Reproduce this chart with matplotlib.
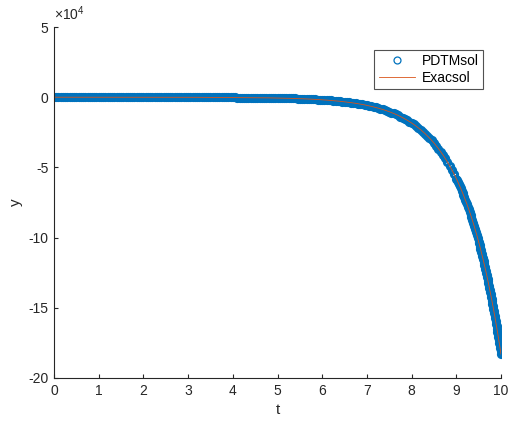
import numpy as np
import matplotlib.pyplot as plt
from matplotlib.ticker import FuncFormatter

# sample points (t) and values, in units of 1e4
t_flat = np.linspace(0, 5.95, 120)
y_flat = [
    0.000, 0.000, 0.000, 0.000, 0.000, 0.000, 0.000, 0.000, 0.000, 0.000,
    0.000, 0.000, 0.000, 0.000, 0.000, 0.000, 0.000, 0.000, 0.000, 0.000,
    0.001, 0.001, 0.001, 0.001, 0.001, 0.001, 0.001, 0.001, 0.001, 0.001,
    0.001, 0.001, 0.001, 0.001, 0.001, 0.001, 0.001, 0.002, 0.002, 0.002,
    0.002, 0.002, 0.002, 0.002, 0.002, 0.002, 0.003, 0.003, 0.003, 0.003,
    0.003, 0.003, 0.004, 0.004, 0.004, 0.004, 0.004, 0.005, 0.005, 0.005,
    0.006, 0.006, 0.007, 0.007, 0.007, 0.008, 0.008, 0.009, 0.009, 0.010,
    0.010, 0.011, 0.012, 0.012, 0.013, 0.014, 0.015, 0.016, 0.016, 0.017,
    0.018, 0.020, 0.021, 0.022, 0.023, 0.025, 0.026, 0.028, 0.029, 0.031,
    0.033, 0.035, 0.037, 0.039, 0.041, 0.044, 0.046, 0.049, 0.052, 0.055,
    0.058, 0.062, 0.065, 0.069, 0.073, 0.078, 0.082, 0.087, 0.092, 0.098,
    0.104, 0.110, 0.116, 0.123, 0.130, 0.138, 0.146, 0.155, 0.164, 0.174,
]

t_mid = np.linspace(6, 8.95, 60)
y_mid = [
    0.184, 0.195, 0.206, 0.219, 0.232, 0.245, 0.260, 0.275, 0.291, 0.309,
    0.327, 0.346, 0.367, 0.388, 0.411, 0.436, 0.462, 0.489, 0.518, 0.549,
    0.581, 0.615, 0.652, 0.690, 0.731, 0.774, 0.820, 0.869, 0.920, 0.974,
    1.032, 1.093, 1.158, 1.226, 1.299, 1.376, 1.457, 1.544, 1.635, 1.732,
    1.834, 1.943, 2.058, 2.180, 2.309, 2.445, 2.590, 2.743, 2.906, 3.078,
    3.260, 3.453, 3.657, 3.874, 4.103, 4.346, 4.603, 4.875, 5.164, 5.469,
]

t_end = np.linspace(9, 10, 51)
y_end = [
    5.793, 5.928, 6.066, 6.207, 6.352, 6.500, 6.651, 6.806, 6.964, 7.126,
    7.292, 7.462, 7.635, 7.813, 7.995, 8.181, 8.371, 8.566, 8.765, 8.969,
    9.178, 9.391, 9.610, 9.833, 10.062, 10.296, 10.536, 10.781, 11.032, 11.289,
    11.552, 11.821, 12.096, 12.377, 12.665, 12.960, 13.261, 13.570, 13.886, 14.209,
    14.540, 14.878, 15.224, 15.578, 15.941, 16.312, 16.691, 17.080, 17.477, 17.884,
    18.300,
]

# extra points on the steep tail
t_tail = np.linspace(9.51, 9.99, 25)
y_tail = [
    10.416, 10.658, 10.906, 11.160, 11.420, 11.686, 11.958, 12.236, 12.520, 12.812,
    13.109, 13.415, 13.727, 14.047, 14.374, 14.708, 15.050, 15.400, 15.759, 16.126,
    16.500, 16.885, 17.277, 17.680, 18.091,
]

t = np.concatenate([t_flat, t_mid, t_end, t_tail])
y = -1e4 * np.concatenate([y_flat, y_mid, y_end, y_tail])
order = np.argsort(t)
t, y = t[order], y[order]

plt.rcParams['font.family'] = ['Liberation Sans', 'DejaVu Sans']
plt.rcParams['mathtext.fontset'] = 'custom'
plt.rcParams['mathtext.rm'] = 'Liberation Sans'
plt.rcParams['axes.unicode_minus'] = False

gray = '#262626'
fig = plt.figure(figsize=(5.12, 4.24), dpi=100)
ax = fig.add_axes([0.1055, 0.1085, 0.873, 0.8278])

ax.plot(t, y, 'o', color='#0072BD', markerfacecolor='none',
        markersize=4.4, markeredgewidth=2.2, label='PDTMsol')
ax.plot(t, y, '-', color='#D95319', linewidth=0.6, label='Exacsol')

ax.set_xlim(0, 10)
ax.set_ylim(-20e4, 5e4)
ax.set_xticks(np.arange(0, 11, 1))
ax.set_yticks(np.arange(-20e4, 6e4, 5e4))
ax.yaxis.set_major_formatter(FuncFormatter(lambda v, p: '%g' % (v / 1e4)))
ax.text(0.0, 1.012, r'$\times10^{4}$', transform=ax.transAxes,
        fontsize=10, color=gray, ha='left', va='bottom')

for side in ['top', 'right']:
    ax.spines[side].set_visible(False)
for side in ['left', 'bottom']:
    ax.spines[side].set_color(gray)
    ax.spines[side].set_linewidth(0.8)
ax.tick_params(direction='in', length=3, width=0.8, colors=gray,
               labelsize=10, pad=4)

ax.set_xlabel('t', fontsize=11, color=gray)
ax.set_ylabel('y', fontsize=11, color=gray)

leg = ax.legend(loc='upper right', bbox_to_anchor=(0.975, 0.955),
                fancybox=False, edgecolor=gray, fontsize=10,
                handlelength=2.6, borderpad=0.3, labelspacing=0.2,
                handletextpad=0.5)
leg.get_frame().set_linewidth(0.8)
leg.legend_handles[0].set_markersize(5)
leg.legend_handles[0].set_markeredgewidth(0.9)

fig.savefig('out.png', dpi=100)
